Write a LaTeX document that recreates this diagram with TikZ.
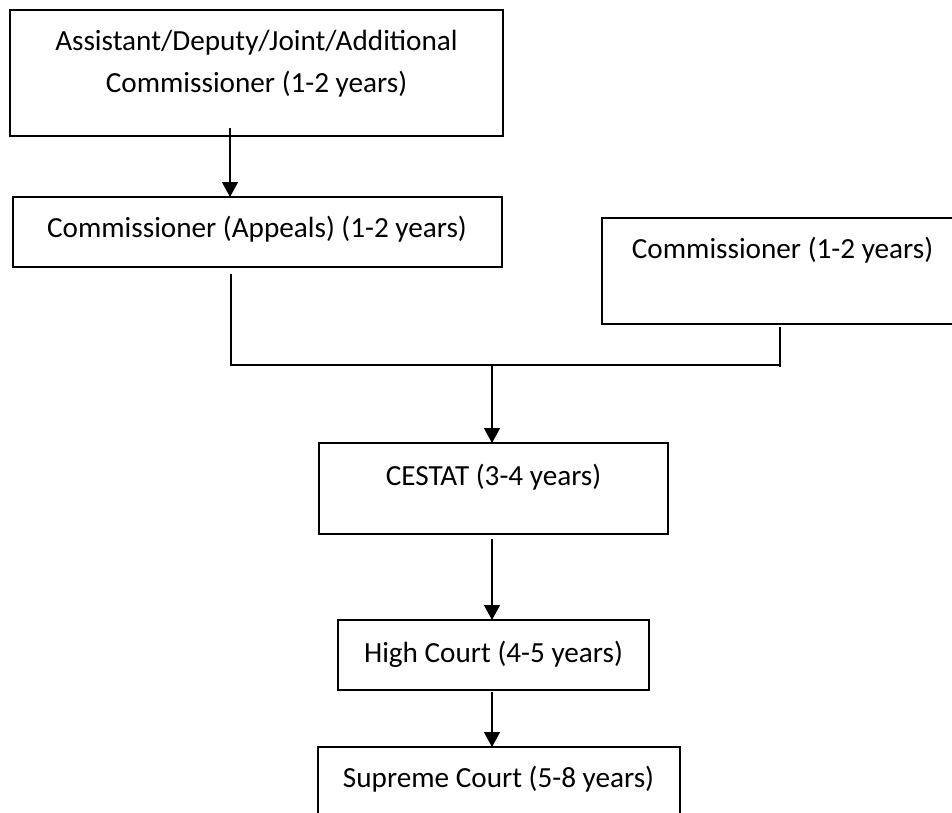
\documentclass[tikz,border=0pt]{standalone}
\usepackage{fontspec}
\setmainfont{Carlito}
\usetikzlibrary{arrows.meta}
\tikzset{
  box/.style={draw=black, line width=1.7pt, inner sep=0pt, outer sep=0pt, anchor=north west},
  txt/.style={inner sep=0pt, anchor=base, font=\fontsize{29.2pt}{35pt}\selectfont},
  conn/.style={draw=black, line width=1.4pt},
  arr/.style={conn, -{Triangle[length=15pt,width=16pt]}}
}
\begin{document}
\begin{tikzpicture}[x=1pt,y=-1pt]
\useasboundingbox (0,0) rectangle (952,812);
% boxes
\node[box, minimum width=493pt, minimum height=126pt] (b1) at (10,10) {};
\node[box, minimum width=489pt, minimum height=70pt] (b2) at (13,197) {};
\node[box, minimum width=360pt, minimum height=106pt] (b3) at (602,218) {};
\node[box, minimum width=349pt, minimum height=91pt] (b4) at (319,443) {};
\node[box, minimum width=311pt, minimum height=70pt] (b5) at (338,620) {};
\node[box, minimum width=362pt, minimum height=70pt] (b6) at (318,747) {};
% texts
\node[txt] (t1a) at (256.5,50) {Assistant/Deputy/Joint/Additional};
\node[txt] (t1b) at (256.5,92) {Commissioner (1-2 years)};
\node[txt] (t2) at (257,237) {Commissioner (Appeals) (1-2 years)};
\node[txt] (t3) at (782.5,258) {Commissioner (1-2 years)};
\node[txt] (t4) at (493.5,485) {CESTAT (3-4 years)};
\node[txt] (t5) at (493.5,662) {High Court (4-5 years)};
\node[txt] (t6) at (498.5,787) {Supreme Court (5-8 years)};
% junction points
\coordinate (jl) at (231,365);
\coordinate (jr) at (780,365);
\coordinate (jm) at (492,365);
\coordinate (s1) at (230,128);
% connectors
\draw[arr] (s1) -- (s1 |- b2.north);
\draw[conn] ([yshift=-7pt]b2.south -| jl) -- (jl) -- (jr);
\draw[conn] ([yshift=-3pt]b3.south -| jr) -- ([yshift=-2pt]jr);
\draw[arr] (jm) -- (jm |- b4.north);
\draw[arr] ([yshift=-5pt]b4.south -| jm) -- (jm |- b5.north);
\draw[arr] ([yshift=-2pt]b5.south -| jm) -- (jm |- b6.north);
\end{tikzpicture}
\end{document}
